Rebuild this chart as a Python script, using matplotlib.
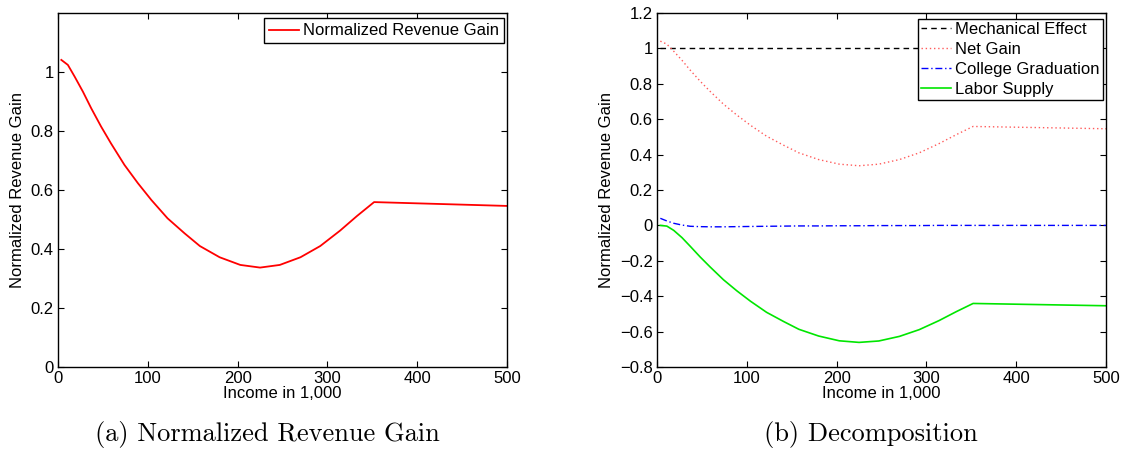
import matplotlib.pyplot as plt
import numpy as np

plt.rcParams['font.family'] = ['Liberation Sans', 'DejaVu Sans']

# income in 1,000
income = [3.7, 11, 18.6, 27.8, 37, 48, 59, 74, 89, 104, 122, 141, 158, 180,
          203, 225, 247, 270, 292, 314, 333, 352, 500]
net_gain = [1.041, 1.024, 0.984, 0.933, 0.877, 0.815, 0.758, 0.685, 0.623,
            0.566, 0.504, 0.453, 0.410, 0.372, 0.346, 0.337, 0.346, 0.372,
            0.410, 0.462, 0.512, 0.559, 0.546]
mechanical = [1.0] * len(income)
college = [0.040, 0.025, 0.012, 0.002, -0.005, -0.007, -0.008, -0.008,
           -0.007, -0.006, -0.005, -0.004, -0.003, -0.003, -0.002, -0.002,
           -0.001, -0.001, -0.001, 0.0, 0.0, 0.0, 0.0]
labor = [0.0, -0.004, -0.028, -0.069, -0.118, -0.178, -0.234, -0.307,
         -0.370, -0.428, -0.491, -0.543, -0.587, -0.625, -0.652, -0.661,
         -0.653, -0.627, -0.589, -0.538, -0.488, -0.441, -0.454]

xticks = [0, 100, 200, 300, 400, 500]
yticks_a = [0, 0.2, 0.4, 0.6, 0.8, 1]
yticks_b = [-0.8, -0.6, -0.4, -0.2, 0, 0.2, 0.4, 0.6, 0.8, 1, 1.2]

FS = 12


def fmt(v):
    s = ('%g' % v)
    return s.replace('-', '\u2212')


def style_axes(ax):
    ax.tick_params(direction='in', top=True, right=True, length=4,
                   width=0.8, labelsize=FS, pad=3)
    for sp in ax.spines.values():
        sp.set_linewidth(1.0)
    ax.set_xlim(0, 500)
    ax.set_xticks(xticks)
    ax.set_xticklabels([str(v) for v in xticks])
    ax.set_xlabel('Income in 1,000', fontsize=FS, labelpad=0)
    ax.set_ylabel('Normalized Revenue Gain', fontsize=FS, labelpad=4)


def add_legend(ax, **kw):
    leg = ax.legend(loc='upper right',
                    bbox_to_anchor=(1 - 3 / 449, 1 - 5.5 / 354),
                    borderaxespad=0, fontsize=FS, frameon=True,
                    fancybox=False, edgecolor='black', framealpha=1,
                    handlelength=1.8, handletextpad=0.25, **kw)
    leg.get_frame().set_linewidth(1.0)
    return leg


fig = plt.figure(figsize=(11.22, 4.59), dpi=100)
ax1 = fig.add_axes([58 / 1122, 1 - 367 / 459, 449 / 1122, 354 / 459])
ax2 = fig.add_axes([657 / 1122, 1 - 367 / 459, 449 / 1122, 354 / 459])

# (a) normalized revenue gain
ax1.plot(income, net_gain, color='red', linewidth=1.3,
         label='Normalized Revenue Gain')
style_axes(ax1)
ax1.set_ylim(0, 1.2)
ax1.set_yticks(yticks_a)
ax1.set_yticklabels([fmt(v) for v in yticks_a])
add_legend(ax1, borderpad=0.3)

# (b) decomposition
ax2.plot(income, mechanical, color='black', linestyle=(0, (4, 3)),
         linewidth=1.0, label='Mechanical Effect')
ax2.plot(income, net_gain, color='#ff5a5a', linestyle=(0, (1, 2)),
         linewidth=1.0, label='Net Gain')
ax2.plot(income, college, color='blue', linestyle=(0, (5, 2, 1, 2)),
         linewidth=1.0, label='College Graduation')
ax2.plot(income, labor, color='#00e600', linewidth=1.2,
         label='Labor Supply')
style_axes(ax2)
ax2.set_ylim(-0.8, 1.2)
ax2.set_yticks(yticks_b)
ax2.set_yticklabels([fmt(v) for v in yticks_b])
add_legend(ax2, borderpad=0.2, labelspacing=0.3)

fig.text(0.238, 0.04, '(a) Normalized Revenue Gain', ha='center',
         va='baseline', fontsize=19, family=['cmr10', 'DejaVu Serif'])
fig.text(0.776, 0.04, '(b) Decomposition', ha='center', va='baseline',
         fontsize=19, family=['cmr10', 'DejaVu Serif'])

fig.savefig('out.png', dpi=100)
